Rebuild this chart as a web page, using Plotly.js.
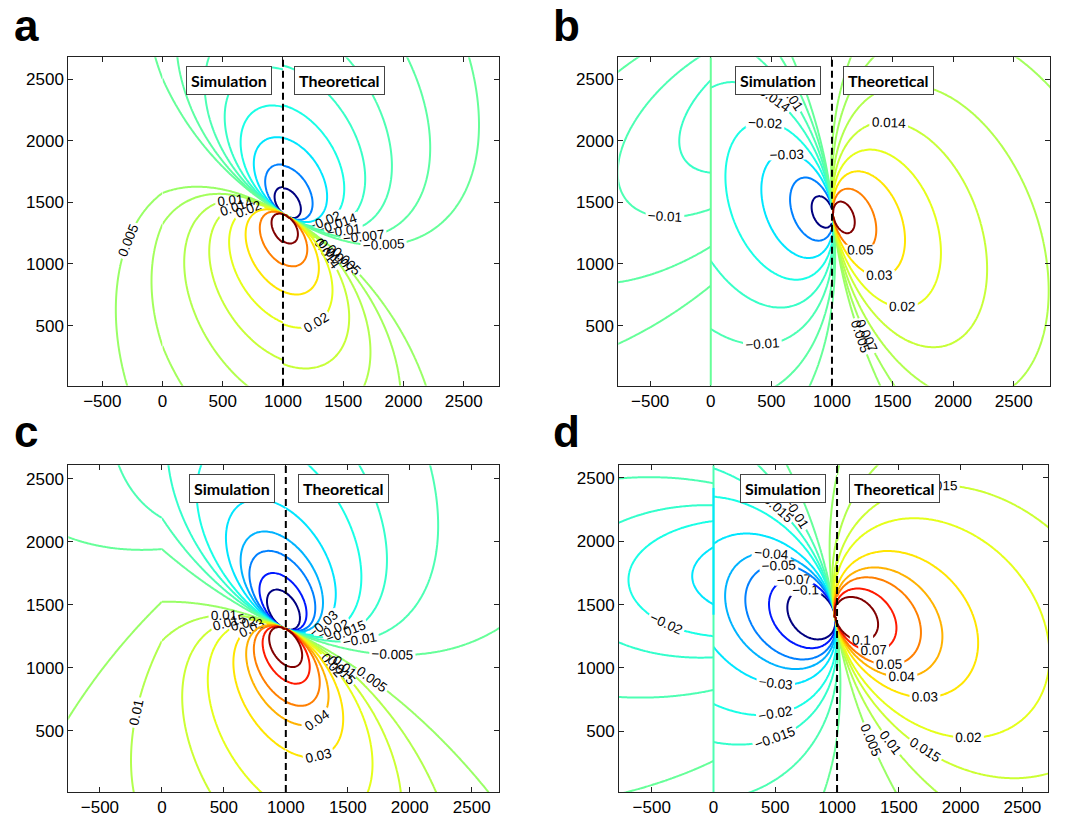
<!DOCTYPE html>
<html><head><meta charset="utf-8">
<script src="https://cdn.plot.ly/plotly-3.0.1.min.js"></script>
<style>body{margin:0;background:#fff}</style>
</head><body><div id="chart" style="width:1070px;height:817px"></div>
<script>
// ---------- data ----------
const panelLetters = ['a','b','c','d'];
const levelsAB = [-0.1,-0.05,-0.03,-0.02,-0.014,-0.01,-0.007,-0.005,0.005,0.007,0.01,0.014,0.02,0.03,0.05,0.1];
const levelsCD = [-0.1,-0.07,-0.05,-0.04,-0.03,-0.02,-0.015,-0.01,-0.005,0.005,0.01,0.015,0.02,0.03,0.04,0.05,0.07,0.1];
const panelLevels = [levelsAB, levelsAB, levelsCD, levelsCD];
const xTickVals = [-500,0,500,1000,1500,2000,2500];
const yTickVals = [500,1000,1500,2000,2500];
const xRanges = [[-782,2793],[-763,2799],[-755,2720],[-765,2710]];
const yRanges = [[13,2676],[13,2676],[13,2606],[20,2600]];
// dipole source seen in each panel (estimated from the contour geometry)
const sourcePos = [[1030,1390],[1010,1400],[990,1312],[985,1405]];
const lobeVec   = [[-70,-593],[590,-150],[60,-990],[1150,-120]];    // tip of the +0.03 lobe, relative to source
const zeroVec   = [[572,-326],[80,-840],[884,-380],[180,-1150]];    // direction/width along the zero line
const refLevel  = 0.03;
const decaySim  = [1.2,1.0,1.0,1.1];   // fall-off exponent, simulation side
const decayTheo = [1.15,1.0,1.0,1.0];  // fall-off exponent, theoretical side
// simulation padding left of x = 0
const leftKx    = [1.25,1,1,1];
const leftKy    = [1,1.87,1,1.8];
const leftY0    = [0,2563,0,1920];
const leftShear = [-0.23,-1.29,-0.93,-0.284];
const wallSegs  = [[],[[13,2676,-0.005]],[],[[20,2600,-0.01],[1420,2420,-0.03]]];
const boundaryX = 1000;
const regionNames = ['Simulation','Theoretical'];

// ---------- helpers ----------
function jet(v){
  const t=(v+0.1)/0.2, c=x=>Math.max(0,Math.min(1,x));
  const r=c(Math.min(4*t-1.5,-4*t+4.5)), g=c(Math.min(4*t-0.5,-4*t+3.5)), b=c(Math.min(4*t+0.5,-4*t+2.5));
  return 'rgb('+Math.round(r*255)+','+Math.round(g*255)+','+Math.round(b*255)+')';
}
function dip(i,x,y,n){
  const s=sourcePos[i], c1=lobeVec[i], c2=zeroVec[i];
  const dx=x-s[0], dy=y-s[1];
  const det=c1[0]*c2[1]-c2[0]*c1[1];
  const u1=(dx*c2[1]-c2[0]*dy)/det, u2=(c1[0]*dy-c1[1]*dx)/det;
  const r2=u1*u1+u2*u2+1e-9;
  const v=refLevel*u1/Math.pow(r2,(n+1)/2);
  return Math.max(-1,Math.min(1,v));
}
const regionFn=[
  (i,x,y)=>dip(i,x*leftKx[i],leftY0[i]+(y-leftY0[i])*leftKy[i]+leftShear[i]*x,decaySim[i]),
  (i,x,y)=>dip(i,x,y,decaySim[i]),
  (i,x,y)=>dip(i,x,y,decayTheo[i])
];
function span(a,b,step){const n=Math.max(2,Math.round((b-a)/step));const o=[];for(let k=0;k<=n;k++)o.push(a+(b-a)*k/n);return o;}
// which contour signs carry inline labels in each region (left pad, simulation, theoretical)
const labelSides=[['both','pos','both'],['both','neg','pos'],['both','pos','both'],['both','neg','pos']];
function labelled(side,lv){return side==='both'||(side==='pos'&&lv>0)||(side==='neg'&&lv<0);}

const W=1070,H=817;
const domX=[[68.3,499],[618.3,1050],[68.3,499],[619,1048.3]];
const domY=[[57.3,385.7],[57.3,385.7],[465.3,792],[465.3,792]];
const letterPos=[[12,52],[551,52],[12,458],[551,458]];

const traces=[], shapes=[], annotations=[];
const layout={width:W,height:H,margin:{l:0,r:0,t:0,b:0},paper_bgcolor:'#fff',plot_bgcolor:'#fff',showlegend:false};

for(let i=0;i<4;i++){
  const sfx = i===0?'':String(i+1);
  const xr=xRanges[i], yr=yRanges[i];
  const ys=span(yr[0]-15,yr[1]+15,14);
  const regX=[span(xr[0]-15,0,14),span(0,boundaryX,14),span(boundaryX,xr[1]+15,14)];
  const regZ=regX.map((xs,r)=>ys.map(y=>xs.map(x=>regionFn[r](i,x,y))));
  panelLevels[i].forEach(lv=>{
    for(let r=0;r<3;r++){
      traces.push({type:'contour',x:regX[r],y:ys,z:regZ[r],xaxis:'x'+sfx,yaxis:'y'+sfx,
        autocontour:false,showscale:false,hoverinfo:'skip',
        contours:{start:lv,end:lv,size:0.001,coloring:'none',showlabels:labelled(labelSides[i][r],lv),
          labelformat:'.3~g',labelfont:{family:'Liberation Sans, Arial',size:13.5,color:'#000'}},
        line:{color:jet(lv),width:2,smoothing:0.8}});
    }
  });
  wallSegs[i].forEach(sg=>shapes.push({type:'line',xref:'x'+sfx,yref:'y'+sfx,x0:0,x1:0,y0:sg[0],y1:sg[1],
    line:{color:jet(sg[2]),width:2}}));
  const ax={showgrid:false,zeroline:false,showline:true,linecolor:'#222',linewidth:1,mirror:'ticks',
    ticks:'inside',ticklen:5,tickcolor:'#222',tickfont:{family:'Liberation Sans, Arial',size:17,color:'#000'}};
  layout['xaxis'+sfx]=Object.assign({},ax,{domain:[domX[i][0]/W,domX[i][1]/W],range:xr,tickvals:xTickVals,
    ticktext:xTickVals.map(v=>v<0?'\u2212'+Math.abs(v):String(v)),anchor:'y'+sfx});
  layout['yaxis'+sfx]=Object.assign({},ax,{domain:[1-domY[i][1]/H,1-domY[i][0]/H],range:yr,tickvals:yTickVals,anchor:'x'+sfx});
  shapes.push({type:'line',xref:'x'+sfx,yref:'y'+sfx+' domain',x0:boundaryX,x1:boundaryX,y0:0,y1:1,
    line:{color:'#000',width:2,dash:'7px,4px'}});
  const boxFont={family:'Lato, Open Sans, sans-serif',size:16,color:'#000'};
  annotations.push({xref:'x'+sfx,yref:'y'+sfx+' domain',x:boundaryX-88,y:0.93,xanchor:'right',yanchor:'middle',
    text:'<b>'+regionNames[0]+'</b>',showarrow:false,font:boxFont,bgcolor:'#fff',bordercolor:'#444',borderwidth:1,borderpad:4});
  annotations.push({xref:'x'+sfx,yref:'y'+sfx+' domain',x:boundaryX+95,y:0.93,xanchor:'left',yanchor:'middle',
    text:'<b>'+regionNames[1]+'</b>',showarrow:false,font:boxFont,bgcolor:'#fff',bordercolor:'#444',borderwidth:1,borderpad:4});
  annotations.push({xref:'paper',yref:'paper',x:letterPos[i][0]/W,y:1-letterPos[i][1]/H,xanchor:'left',yanchor:'bottom',
    text:'<b>'+panelLetters[i]+'</b>',showarrow:false,font:{family:'Liberation Sans, Arial',size:44,color:'#000'}});
}
layout.shapes=shapes; layout.annotations=annotations;
Plotly.newPlot('chart',traces,layout,{staticPlot:true,displayModeBar:false});
</script></body></html>
